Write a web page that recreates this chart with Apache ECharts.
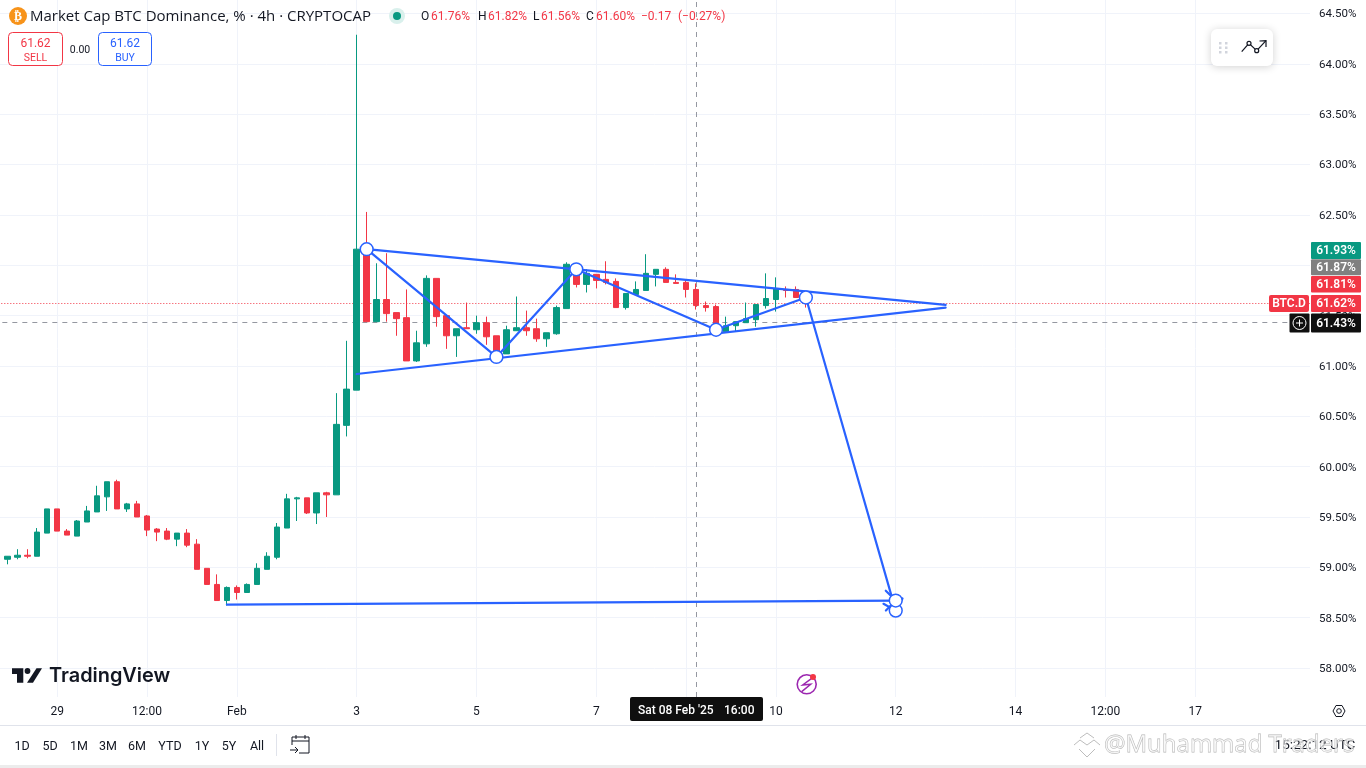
<!DOCTYPE html>
<html><head><meta charset="utf-8">
<style>html,body{margin:0;padding:0;background:#fff;overflow:hidden}#c{width:1366px;height:768px}</style>
<script src="https://cdn.jsdelivr.net/npm/echarts@6/dist/echarts.min.js"></script>
</head><body><div id="c"></div>
<script>
const categories = [
"Jan 28 00:00","Jan 28 04:00","Jan 28 08:00","Jan 28 12:00","Jan 28 16:00","Jan 28 20:00",
"Jan 29 00:00","Jan 29 04:00","Jan 29 08:00","Jan 29 12:00","Jan 29 16:00","Jan 29 20:00",
"Jan 30 00:00","Jan 30 04:00","Jan 30 08:00","Jan 30 12:00","Jan 30 16:00","Jan 30 20:00",
"Jan 31 00:00","Jan 31 04:00","Jan 31 08:00","Jan 31 12:00","Jan 31 16:00","Jan 31 20:00",
"Feb 01 00:00","Feb 01 04:00","Feb 01 08:00","Feb 01 12:00","Feb 01 16:00","Feb 01 20:00",
"Feb 02 00:00","Feb 02 04:00","Feb 02 08:00","Feb 02 12:00","Feb 02 16:00","Feb 02 20:00",
"Feb 03 00:00","Feb 03 04:00","Feb 03 08:00","Feb 03 12:00","Feb 03 16:00","Feb 03 20:00",
"Feb 04 00:00","Feb 04 04:00","Feb 04 08:00","Feb 04 12:00","Feb 04 16:00","Feb 04 20:00",
"Feb 05 00:00","Feb 05 04:00","Feb 05 08:00","Feb 05 12:00","Feb 05 16:00","Feb 05 20:00",
"Feb 06 00:00","Feb 06 04:00","Feb 06 08:00","Feb 06 12:00","Feb 06 16:00","Feb 06 20:00",
"Feb 07 00:00","Feb 07 04:00","Feb 07 08:00","Feb 07 12:00","Feb 07 16:00","Feb 07 20:00",
"Feb 08 00:00","Feb 08 04:00","Feb 08 08:00","Feb 08 12:00","Feb 08 16:00","Feb 08 20:00",
"Feb 09 00:00","Feb 09 04:00","Feb 09 08:00","Feb 09 12:00","Feb 09 16:00","Feb 09 20:00",
"Feb 10 00:00","Feb 10 04:00","Feb 10 08:00","Feb 10 12:00","Feb 10 16:00","Feb 10 20:00",
"Feb 11 00:00","Feb 11 04:00","Feb 11 08:00","Feb 11 12:00","Feb 11 16:00","Feb 11 20:00",
"Feb 12 00:00","Feb 12 04:00","Feb 12 08:00","Feb 12 12:00","Feb 12 16:00","Feb 12 20:00",
"Feb 13 00:00","Feb 13 04:00","Feb 13 08:00","Feb 13 12:00","Feb 13 16:00","Feb 13 20:00",
"Feb 14 00:00","Feb 14 04:00","Feb 14 08:00","Feb 14 12:00","Feb 14 16:00","Feb 14 20:00",
"Feb 15 00:00","Feb 15 04:00","Feb 15 08:00","Feb 15 12:00","Feb 15 16:00","Feb 15 20:00",
"Feb 16 00:00","Feb 16 04:00","Feb 16 08:00","Feb 16 12:00","Feb 16 16:00","Feb 16 20:00",
"Feb 17 00:00","Feb 17 04:00","Feb 17 08:00","Feb 17 12:00","Feb 17 16:00","Feb 17 20:00",
"Feb 18 00:00","Feb 18 04:00","Feb 18 08:00","Feb 18 12:00","Feb 18 16:00","Feb 18 20:00"];
const firstCandle = "Jan 28 04:00";
const opens = [59.08,59.10,59.12,59.11,59.34,59.58,59.36,59.31,59.45,59.55,59.70,59.85,59.58,59.63,59.51,59.38,59.36,59.28,59.34,59.23,58.99,58.83,58.67,58.80,58.75,58.83,58.98,59.10,59.39,59.68,59.69,59.54,59.74,59.72,60.41,60.76,62.16,61.44,61.66,61.53,61.48,61.05,61.22,61.87,61.50,61.30,61.38,61.36,61.43,61.30,61.12,61.35,61.38,61.37,61.27,61.32,61.57,61.95,61.81,61.91,61.86,61.84,61.58,61.71,61.75,61.91,61.96,61.83,61.83,61.76,61.60,61.59,61.34,61.40,61.43,61.46,61.60,61.66,61.76,61.76,61.68];
const closes = [59.11,59.12,59.11,59.35,59.58,59.36,59.32,59.46,59.56,59.71,59.85,59.58,59.63,59.50,59.37,59.35,59.28,59.34,59.22,58.98,58.83,58.67,58.80,58.75,58.83,58.99,59.11,59.40,59.68,59.69,59.54,59.74,59.72,60.42,60.77,62.16,61.44,61.66,61.52,61.47,61.05,61.23,61.87,61.49,61.30,61.37,61.37,61.43,61.29,61.13,61.36,61.38,61.35,61.27,61.33,61.58,62.01,61.81,61.92,61.85,61.83,61.58,61.72,61.76,61.92,61.96,61.83,61.82,61.76,61.60,61.58,61.38,61.40,61.44,61.47,61.61,61.67,61.77,61.75,61.68,61.62];
const lows = [59.03,59.08,59.09,59.11,59.34,59.36,59.32,59.31,59.45,59.55,59.56,59.58,59.55,59.50,59.31,59.26,59.27,59.21,59.20,58.98,58.83,58.67,58.62,58.68,58.75,58.83,58.98,59.08,59.39,59.46,59.53,59.43,59.50,59.72,60.30,60.76,61.44,61.44,61.44,61.30,61.05,61.04,61.19,61.39,61.17,61.09,61.37,61.32,61.21,61.13,61.12,61.35,61.30,61.24,61.19,61.31,61.57,61.78,61.73,61.77,61.81,61.58,61.56,61.71,61.75,61.79,61.83,61.82,61.68,61.56,61.54,61.38,61.34,61.34,61.43,61.39,61.57,61.54,61.68,61.68,61.58];
const highs = [59.11,59.18,59.18,59.39,59.58,59.58,59.38,59.47,59.61,59.81,59.85,59.87,59.64,59.66,59.52,59.39,59.39,59.34,59.38,59.28,58.99,58.93,58.81,58.82,58.84,59.04,59.15,59.44,59.73,59.70,59.69,59.74,59.75,60.73,61.25,64.29,62.53,62.02,62.12,61.53,61.76,61.35,61.90,61.87,61.50,61.37,61.63,61.50,61.49,61.30,61.40,61.69,61.55,61.47,61.33,61.60,62.03,61.95,61.96,61.91,62.04,61.87,61.72,61.84,62.11,61.96,61.98,61.91,61.85,61.82,61.64,61.61,61.49,61.44,61.63,61.61,61.92,61.88,61.79,61.79,61.70];

const tickCategories = ["Jan 29 00:00","Jan 30 12:00","Feb 01 00:00","Feb 03 00:00","Feb 05 00:00","Feb 07 00:00","Feb 08 12:00","Feb 10 00:00","Feb 12 00:00","Feb 14 00:00","Feb 15 12:00","Feb 17 00:00"];
const tickLabels = ["29","12:00","Feb","3","5","7","12:00","10","12","14","12:00","17"];

const lastPrice = 61.62;
const crosshairPrice = 61.43;
const crosshairTime = "Feb 08 16:00";

// drawing tools: [from time, from price, to time, to price, arrow head]
const drawingSegments = [
  ["Feb 03 04:00",62.16,"Feb 12 20:00",61.606,0],
  ["Feb 03 00:00",60.92,"Feb 12 20:00",61.58,0],
  ["Feb 03 04:00",62.16,"Feb 05 08:00",61.09,0],
  ["Feb 05 08:00",61.09,"Feb 06 16:00",61.96,0],
  ["Feb 06 16:00",61.96,"Feb 09 00:00",61.36,0],
  ["Feb 09 00:00",61.36,"Feb 10 12:00",61.68,0],
  ["Feb 10 12:00",61.68,"Feb 12 00:00",58.57,1],
  ["Jan 31 20:00",58.63,"Feb 12 00:00",58.67,1]
];
const drawingHandles = [
  ["Feb 03 04:00",62.16],["Feb 05 08:00",61.09],["Feb 06 16:00",61.96],
  ["Feb 09 00:00",61.36],["Feb 10 12:00",61.68],["Feb 12 00:00",58.57],["Feb 12 00:00",58.67]
];

const priceTags = ["61.93%","61.87%","61.81%","61.62%","61.43%"];
const rangeButtons = ["1D","5D","1M","3M","6M","YTD","1Y","5Y","All"];

const UP = "#089981", DOWN = "#f23645", BLUE = "#2962ff", INK = "#131722", GRID = "#f0f3fa";
const FONT = "Roboto, 'Open Sans', sans-serif";
const TITLE_FONT = "'Open Sans', Roboto, sans-serif";

const startK = categories.indexOf(firstCandle);
const candleData = categories.map((c, k) => {
  const i = k - startK;
  if (i < 0 || i >= opens.length) return ["-", "-", "-", "-"];
  return [opens[i], closes[i], lows[i], highs[i]];
});
const tickIdx = tickCategories.map(c => categories.indexOf(c));
const tickFilter = (index) => tickIdx.indexOf(index) >= 0;

function txt(text, x, y, o) {
  o = o || {};
  return {type:"text", z:o.z||100, silent:true, style:{text, x, y,
    fill:o.fill||INK, font:(o.weight||"normal")+" "+(o.size||12)+"px "+(o.family||FONT),
    textAlign:o.align||"left", textVerticalAlign:"middle",
    stroke:o.stroke, lineWidth:o.lw||0, opacity:o.opacity==null?1:o.opacity}};
}
function rect(x,y,w,h,fill,o){ o=o||{}; return {type:"rect",z:o.z||99,silent:true,shape:{x,y,width:w,height:h,r:o.r||0},
  style:{fill,stroke:o.stroke,lineWidth:o.lw||0,shadowBlur:o.blur||0,shadowColor:o.sc,shadowOffsetY:o.sy||0}}; }
function poly(points,stroke,lw,z){ return {type:"polyline",z:z||100,silent:true,shape:{points},style:{stroke,lineWidth:lw||1,fill:null}}; }
function polygon(points,fill,z){ return {type:"polygon",z:z||100,silent:true,shape:{points},style:{fill}}; }
function circ(cx,cy,r,fill,stroke,lw,z){ return {type:"circle",z:z||100,silent:true,shape:{cx,cy,r},style:{fill,stroke,lineWidth:lw||0}}; }

const g = [];
// legend header
g.push(circ(18,16,9,"#f7931a"));
g.push(txt("₿",18,16.5,{fill:"#fff",size:12,weight:"bold",align:"center",family:"'DejaVu Sans'"}));
g.push(txt("Market Cap BTC Dominance, % · 4h · CRYPTOCAP",30,17,{size:15,family:TITLE_FONT}));
g.push(circ(397,16,8,"#d9f0ec"));
g.push(circ(397,16,4,UP));
const ohlc = [["O",421,INK],["61.76%",431,DOWN],["H",478,INK],["61.82%",488,DOWN],["L",533,INK],["61.56%",541,DOWN],["C",586,INK],["61.60%",596,DOWN],["−0.17",641,DOWN],["(−0.27%)",678,DOWN]];
ohlc.forEach(a=>g.push(txt(a[0],a[1],17,{fill:a[2],size:12})));
// sell / buy
g.push(rect(8.5,32.5,54,33,"#fff",{r:4,stroke:DOWN,lw:1}));
g.push(txt("61.62",35.5,44,{fill:DOWN,size:12,align:"center"}));
g.push(txt("SELL",35.5,58,{fill:DOWN,size:10.5,align:"center"}));
g.push(txt("0.00",80,50.5,{size:10.5,align:"center"}));
g.push(rect(98.5,32.5,53,33,"#fff",{r:4,stroke:BLUE,lw:1}));
g.push(txt("61.62",125,44,{fill:BLUE,size:12,align:"center"}));
g.push(txt("BUY",125,58,{fill:BLUE,size:10.5,align:"center"}));
// floating drawing toolbar
g.push(rect(1211,29,62,37,"#fff",{r:6,blur:8,sc:"rgba(0,0,0,0.18)",sy:1}));
[[1219,42],[1225,42],[1219,46.5],[1225,46.5],[1219,51],[1225,51]].forEach(p=>g.push(rect(p[0],p[1],2.5,2.5,"#d1d4dc",{z:100})));
g.push(poly([[1241.7,51.7],[1249,43.3],[1256.7,50.7],[1266,40.7]],INK,1.2));
g.push(poly([[1259.5,41],[1266,40.7],[1266,47]],INK,1.2));
g.push(circ(1249,43.3,2,"#fff",INK,1.2,101));
g.push(circ(1256.7,50.7,2,"#fff",INK,1.2,101));
// logo
g.push(polygon([[12,668.3],[23.3,668.3],[23.3,682.7],[17,682.7],[17,674],[12,674]],INK));
g.push(circ(27.5,671,2.9,INK));
g.push(polygon([[36.5,668.3],[42,668.3],[33,682.7],[27,682.7]],INK));
g.push(txt("TradingView",49,676,{size:19.9,weight:"600",family:"Inter, Roboto, sans-serif"}));
// lightning badge
g.push(circ(806.7,684.3,9.5,"none","#9c27b0",1.6));
g.push(poly([[811.7,678.3],[802.7,685],[810.7,684.3],[801.7,691.7]],"#9c27b0",1.5));
g.push(circ(813,677,3,DOWN));
// right price tags
const tagBoxes = [[242,17,UP],[259.3,16,"#808080"],[276,16.5,DOWN],[295,17,DOWN],[313.5,19,"#0f0f0f"]];
tagBoxes.forEach((b,i)=>{
  g.push(rect(1311,b[0],50,b[1],b[2],{r:1}));
  g.push(txt(priceTags[i],1336,b[0]+b[1]/2+0.5,{fill:"#fff",size:12,weight:"600",align:"center"}));
});
g.push(rect(1269,295,40,17,DOWN,{r:2}));
g.push(txt("BTC.D",1289,303.5,{fill:"#fff",size:12,weight:"600",align:"center"}));
g.push(rect(1289.5,313.5,20,19,"#0f0f0f",{r:1}));
g.push(circ(1299.5,323,6.5,"none","#fff",1));
g.push(poly([[1296,323],[1303,323]],"#fff",1));
g.push(poly([[1299.5,319.5],[1299.5,326.5]],"#fff",1));
// crosshair time tag
g.push(rect(630,697,133,24,"#0f0f0f",{r:2}));
g.push(txt("Sat 08 Feb '25",638,710.5,{fill:"#fff",size:12,weight:"500"}));
g.push(txt("16:00",724,710.5,{fill:"#fff",size:12,weight:"500"}));
// settings hex
g.push(poly([[1333,711],[1336,705.5],[1342,705.5],[1345,711],[1342,716.5],[1336,716.5],[1333,711]],INK,1));
g.push(circ(1339,711,2.3,"none",INK,1));
// bottom toolbar
g.push(rect(0,725,1366,1,"#e0e3eb"));
g.push(rect(0,765,1366,3,"#ececec"));
const btnX=[22,50,79,108,137,170,202,229,257];
rangeButtons.forEach((t,i)=>g.push(txt(t,btnX[i],746.5,{size:12.5,align:"center"})));
g.push(rect(276,734,1,22,"#e0e3eb"));
g.push(poly([[292,745],[292,737],[309,737],[309,753],[299,753]],INK,1));
g.push(poly([[292,741],[309,741]],INK,1));
g.push(poly([[296,735],[296,739]],INK,1));
g.push(poly([[305,735],[305,739]],INK,1));
g.push(poly([[290,750],[298,750]],INK,1));
g.push(poly([[295,747],[298,750],[295,753]],INK,1));
// watermark & clock
g.push(txt("15:22:12 UTC",1315,746,{size:13.5,align:"center"}));
g.push(poly([[1074,745],[1080,740],[1087,745],[1094,740],[1100,745]],"#bdbdbd",1));
g.push(poly([[1080,738],[1087,733],[1094,738]],"#bdbdbd",1));
g.push(poly([[1079,749],[1087,757],[1095,749]],"#bdbdbd",1));
g.push(txt("@Muhammad Traders",1104,745,{size:24,family:"'Open Sans', sans-serif",fill:"rgba(255,255,255,0.55)",stroke:"#b4b4b4",lw:0.8}));

function drawSegment(params, api){
  const s = drawingSegments[params.dataIndex];
  const a = api.coord([categories.indexOf(s[0]), s[1]]);
  const b = api.coord([categories.indexOf(s[2]), s[3]]);
  const style = {stroke:BLUE, lineWidth:2.2, fill:null, lineCap:"round"};
  const kids = [{type:"line", shape:{x1:a[0],y1:a[1],x2:b[0],y2:b[1]}, style}];
  if (s[4]) {
    const ang = Math.atan2(b[1]-a[1], b[0]-a[0]), L = 14;
    [Math.PI*0.75, -Math.PI*0.75].forEach(d=>{
      kids.push({type:"line", shape:{x1:b[0],y1:b[1],
        x2:b[0]+L*Math.cos(ang+d), y2:b[1]+L*Math.sin(ang+d)}, style});
    });
  }
  return {type:"group", children:kids};
}
function drawHandle(params, api){
  const h = drawingHandles[params.dataIndex];
  const p = api.coord([categories.indexOf(h[0]), h[1]]);
  return {type:"circle", shape:{cx:p[0],cy:p[1],r:6.4}, style:{fill:"#fff",stroke:BLUE,lineWidth:1.5}};
}

const chart = echarts.init(document.getElementById("c"), null, {renderer:"canvas"});
chart.setOption({
  animation:false,
  backgroundColor:"#fff",
  grid:[
    {left:-7.68, width:1317.68, top:0, height:697, outerBoundsMode:"none"},
    {left:-7.68, width:1317.68, top:13.6, height:654.4, outerBoundsMode:"none"}
  ],
  xAxis:[
    {type:"category", gridIndex:0, data:categories, boundaryGap:true,
     axisLine:{show:false}, axisTick:{show:false},
     splitLine:{show:true, alignWithLabel:true, interval:tickFilter, lineStyle:{color:GRID,width:1}},
     axisLabel:{show:true, interval:tickFilter, margin:9, color:INK, fontSize:12, fontFamily:FONT,
       hideOverlap:false, formatter:(v)=>tickLabels[tickCategories.indexOf(v)]}},
    {type:"category", gridIndex:1, data:categories, boundaryGap:true, show:false}
  ],
  yAxis:[
    {type:"value", gridIndex:0, min:0, max:1, show:false},
    {type:"value", gridIndex:1, position:"right", min:58, max:64.5, interval:0.5,
     axisLine:{show:false}, axisTick:{show:false},
     splitLine:{show:true, lineStyle:{color:GRID,width:1}},
     axisLabel:{margin:9, color:INK, fontSize:11.5, fontFamily:FONT, showMinLabel:true, showMaxLabel:true,
       verticalAlign:"top", lineHeight:2, formatter:(v)=>v.toFixed(2)+"%"}}
  ],
  series:[
    {type:"line", xAxisIndex:0, yAxisIndex:0, data:[], z:1, silent:true,
     markLine:{z:1, silent:true, symbol:"none", animation:false, label:{show:false},
       lineStyle:{color:"#9598a1",width:1,type:[5,5]},
       data:[{xAxis:crosshairTime}]}},
    {type:"candlestick", xAxisIndex:1, yAxisIndex:1, data:candleData, barWidth:6, z:2, silent:true,
     itemStyle:{color:UP,color0:DOWN,borderColor:UP,borderColor0:DOWN,borderWidth:1},
     markLine:{z:1, silent:true, symbol:"none", animation:false, label:{show:false},
       data:[
         {yAxis:lastPrice, lineStyle:{color:DOWN,width:1,type:[1,2]}},
         {yAxis:crosshairPrice, lineStyle:{color:"#9598a1",width:1,type:[5,5]}}
       ]}},
    {type:"custom", xAxisIndex:1, yAxisIndex:1, z:5, silent:true, clip:false,
     data:drawingSegments.map((s,i)=>[i]), encode:{x:0,y:0}, renderItem:drawSegment},
    {type:"custom", xAxisIndex:1, yAxisIndex:1, z:6, silent:true, clip:false,
     data:drawingHandles.map((s,i)=>[i]), encode:{x:0,y:0}, renderItem:drawHandle}
  ],
  graphic:{elements:g}
});
</script></body></html>
